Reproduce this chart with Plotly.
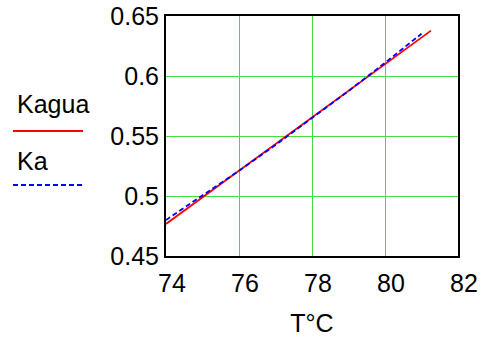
import plotly.graph_objects as go

# Data
T_kagua = [74, 75, 76, 77, 78, 79, 80, 81, 81.26]
kagua = [0.4767, 0.4989, 0.5211, 0.5433, 0.5655, 0.5877, 0.6099, 0.6321, 0.6378]
T_ka = [74, 75, 76, 77, 78, 79, 80, 81]
ka = [0.4800, 0.5002, 0.5210, 0.5425, 0.5647, 0.5875, 0.6110, 0.6352]
x_ticks = [74, 76, 78, 80, 82]
y_ticks = [0.45, 0.5, 0.55, 0.6, 0.65]
y_tick_text = ["0.45", "0.5", "0.55", "0.6", "0.65"]

W, H = 484, 340
L, R, TOP, B = 166, 26, 16, 84
pw, ph = W - L - R, H - TOP - B

def px(x):
    return (x - L) / pw

def py(y):
    return (H - B - y) / ph

fig = go.Figure()
fig.add_trace(go.Scatter(x=T_kagua, y=kagua, mode="lines",
                         line=dict(color="#ff0000", width=1.8), showlegend=False))
fig.add_trace(go.Scatter(x=T_ka, y=ka, mode="lines",
                         line=dict(color="#0000ff", width=1.8, dash="5px,3px"), showlegend=False))

font = dict(family="Arial, Liberation Sans, sans-serif", size=25, color="black")
grid = "#44dd44"

fig.update_layout(
    width=W, height=H,
    margin=dict(l=L, r=R, t=TOP, b=B, autoexpand=False),
    paper_bgcolor="white", plot_bgcolor="white",
    font=font,
    xaxis=dict(range=[74, 82], tickvals=x_ticks, ticktext=[str(v) for v in x_ticks],
               showgrid=True, gridcolor=grid, gridwidth=1,
               showline=True, linecolor="black", linewidth=2, mirror=True,
               ticks="", zeroline=False, tickfont=font, ticklabelshift=6,
               ticklabelstandoff=4, automargin=False,
               title=dict(text="T°C", font=font, standoff=18)),
    yaxis=dict(range=[0.45, 0.65], tickvals=y_ticks, ticktext=y_tick_text,
               showgrid=True, gridcolor=grid, gridwidth=1,
               showline=True, linecolor="black", linewidth=2, mirror=True,
               ticks="", zeroline=False, tickfont=font, ticklabelstandoff=0,
               automargin=False),
)

# Left-side legend
fig.add_annotation(x=px(15), y=py(104), xref="paper", yref="paper", text="Kagua",
                   showarrow=False, xanchor="left", yanchor="middle", font=font)
fig.add_shape(type="line", xref="paper", yref="paper", x0=px(13), x1=px(83),
              y0=py(131), y1=py(131), line=dict(color="#ff0000", width=1.8))
fig.add_annotation(x=px(15), y=py(161), xref="paper", yref="paper", text="Ka",
                   showarrow=False, xanchor="left", yanchor="middle", font=font)
fig.add_shape(type="line", xref="paper", yref="paper", x0=px(13), x1=px(83),
              y0=py(185), y1=py(185), line=dict(color="#0000ff", width=1.8, dash="5px,3px"))

fig.write_html("out.html")
